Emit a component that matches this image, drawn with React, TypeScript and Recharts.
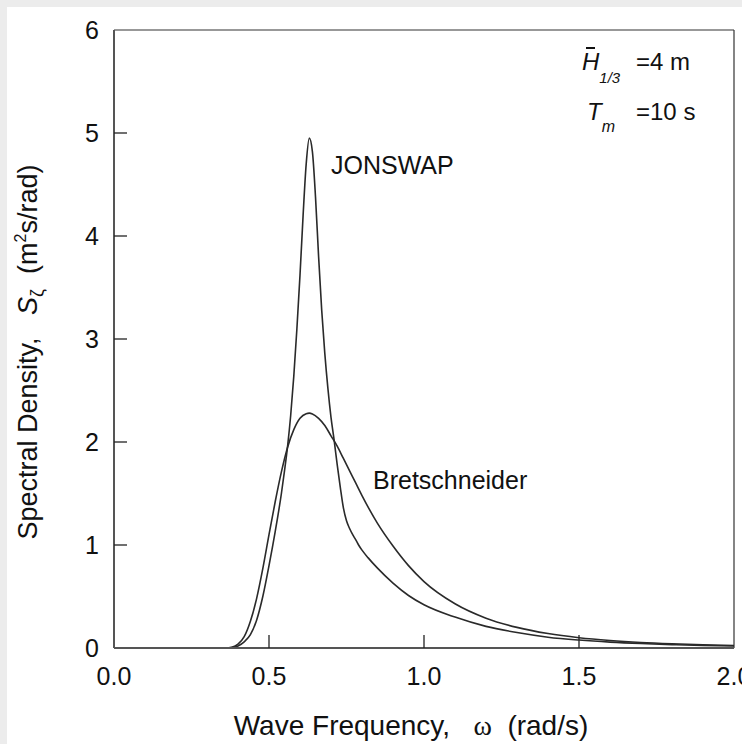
import React from 'react';
import { LineChart, Line, XAxis, YAxis, ReferenceLine, Customized } from 'recharts';

// Wave frequency (rad/s) sample points and spectral densities
const bretOmega = [0, 0.30, 0.34, 0.36, 0.38, 0.40, 0.42, 0.44, 0.46, 0.48, 0.50, 0.52, 0.54, 0.56, 0.58, 0.60, 0.62, 0.63, 0.64, 0.66, 0.68, 0.70, 0.72, 0.74, 0.76, 0.78, 0.80, 0.85, 0.90, 0.95, 1.00, 1.10, 1.20, 1.30, 1.40, 1.50, 1.60, 1.70, 1.80, 1.90, 2.00];
const bretValues = [0, 0, 0, 0.001, 0.008, 0.037, 0.11, 0.26, 0.48, 0.77, 1.10, 1.42, 1.71, 1.95, 2.12, 2.23, 2.275, 2.28, 2.273, 2.23, 2.16, 2.06, 1.96, 1.84, 1.72, 1.60, 1.48, 1.21, 0.99, 0.80, 0.645, 0.43, 0.29, 0.20, 0.14, 0.10, 0.073, 0.054, 0.041, 0.031, 0.024];

const jonsOmega = [0, 0.30, 0.34, 0.36, 0.38, 0.40, 0.42, 0.44, 0.46, 0.48, 0.50, 0.52, 0.54, 0.55, 0.56, 0.57, 0.58, 0.59, 0.60, 0.61, 0.62, 0.63, 0.64, 0.65, 0.66, 0.67, 0.68, 0.69, 0.70, 0.71, 0.72, 0.73, 0.74, 0.75, 0.76, 0.77, 0.78, 0.79, 0.80, 0.82, 0.85, 0.90, 0.95, 1.00, 1.10, 1.20, 1.30, 1.40, 1.50, 1.60, 1.70, 1.80, 1.90, 2.00];
const jonsValues = [0, 0, 0, 0.0005, 0.004, 0.02, 0.06, 0.13, 0.27, 0.50, 0.80, 1.13, 1.50, 1.72, 1.96, 2.26, 2.64, 3.10, 3.62, 4.20, 4.70, 4.95, 4.82, 4.38, 3.80, 3.28, 2.86, 2.52, 2.24, 2.02, 1.78, 1.56, 1.36, 1.235, 1.16, 1.10, 1.05, 0.995, 0.95, 0.875, 0.775, 0.63, 0.51, 0.42, 0.30, 0.21, 0.15, 0.105, 0.077, 0.057, 0.043, 0.033, 0.025, 0.02];

const xTicks = [0, 0.5, 1.0, 1.5, 2.0];
const yTicks = [0, 1, 2, 3, 4, 5, 6];

const bretData = bretOmega.map((w, i) => ({ w, s: bretValues[i] }));
const jonsData = jonsOmega.map((w, i) => ({ w, s: jonsValues[i] }));

const FONT = '"Liberation Sans", Arial, Helvetica, sans-serif';
const INK = '#111';

const XTick = (props: any) => {
  const { x, y, payload } = props;
  const v = payload.value;
  const inner = v > 0 && v < 2;
  return (
    <g>
      {inner && <line x1={x} y1={y} x2={x} y2={y - 13} stroke="#222" strokeWidth={1.3} />}
      <text x={x} y={y + 37} textAnchor="middle" fontSize={25} fontFamily={FONT} fill={INK}>
        {v.toFixed(1)}
      </text>
    </g>
  );
};

const YTick = (props: any) => {
  const { x, y, payload } = props;
  const v = payload.value;
  const inner = v > 0 && v < 6;
  return (
    <g>
      {inner && <line x1={x} y1={y} x2={x + 13} y2={y} stroke="#222" strokeWidth={1.3} />}
      <text x={x - 15} y={y + 9} textAnchor="end" fontSize={25} fontFamily={FONT} fill={INK}>
        {String(v)}
      </text>
    </g>
  );
};

const Texts = () => (
  <g fontFamily={FONT} fill={INK}>
    <text x={411} y={735} textAnchor="middle" fontSize={28}>
      Wave Frequency,{'\u00a0\u00a0\u00a0'}
      <tspan fontFamily='"Liberation Serif", "Times New Roman", serif'>ω</tspan>
      {'\u00a0\u00a0'}(rad/s)
    </text>
    <text transform="translate(37,352) rotate(-90)" textAnchor="middle" fontSize={27}>
      Spectral Density,{'\u00a0\u00a0\u00a0'}
      <tspan fontStyle="italic">S</tspan>
      <tspan fontSize={18} dy={6}>ζ</tspan>
      <tspan dy={-6}>{'\u00a0\u00a0'}(m</tspan>
      <tspan fontSize={16} dy={-11}>2</tspan>
      <tspan dy={11}>s/rad)</tspan>
    </text>
    <text x={331} y={174} fontSize={25}>JONSWAP</text>
    <text x={373} y={489} fontSize={25}>Bretschneider</text>
    <line x1={586} y1={48} x2={595} y2={48} stroke={INK} strokeWidth={2} />
    <text x={582} y={70} fontSize={24}>
      <tspan fontStyle="italic">H</tspan>
      <tspan fontSize={15} dy={13} fontStyle="italic">1/3</tspan>
      <tspan x={636} dy={-13}>=4 m</tspan>
    </text>
    <text x={587} y={120} fontSize={24}>
      <tspan fontStyle="italic">T</tspan>
      <tspan fontSize={16} dy={12} fontStyle="italic">m</tspan>
      <tspan x={636} dy={-12}>=10 s</tspan>
    </text>
  </g>
);

export default function App() {
  return (
    <div style={{ position: 'fixed', left: 0, top: 0, width: 742, height: 744, background: '#ececec', overflow: 'hidden' }}>
      <div style={{ position: 'absolute', left: 7, top: 7, right: 0, bottom: 0, background: '#ffffff' }} />
      <div style={{ position: 'absolute', left: 0, top: 0 }}>
        <LineChart width={742} height={744} margin={{ top: 30, right: 8, left: 0, bottom: 0 }}>
          <XAxis
            dataKey="w"
            type="number"
            domain={[0, 2]}
            ticks={xTicks}
            interval={0}
            height={96}
            tickSize={0}
            tickMargin={0}
            tickLine={false}
            tick={(p: any) => <XTick {...p} />}
            axisLine={{ stroke: '#555', strokeWidth: 2 }}
            allowDataOverflow
          />
          <YAxis
            type="number"
            domain={[0, 6]}
            ticks={yTicks}
            interval={0}
            width={114}
            tickSize={0}
            tickMargin={0}
            tickLine={false}
            tick={(p: any) => <YTick {...p} />}
            axisLine={{ stroke: '#555', strokeWidth: 2 }}
            allowDataOverflow
          />
          <ReferenceLine y={6} stroke="#333" strokeWidth={1.2} />
          <ReferenceLine x={2} stroke="#333" strokeWidth={1.2} />
          <Line data={bretData} dataKey="s" type="monotone" stroke="#2a2a2a" strokeWidth={1.6} dot={false} isAnimationActive={false} />
          <Line data={jonsData} dataKey="s" type="monotone" stroke="#2a2a2a" strokeWidth={1.6} dot={false} isAnimationActive={false} />
          <Customized component={Texts} />
        </LineChart>
      </div>
    </div>
  );
}
